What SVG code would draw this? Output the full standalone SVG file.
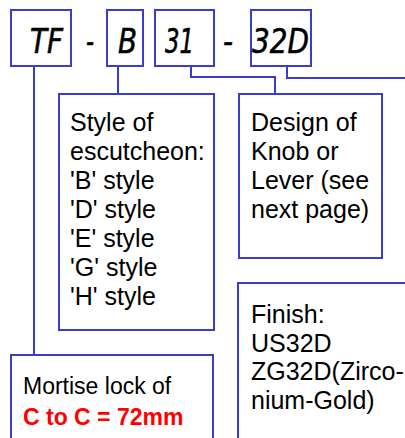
<svg xmlns="http://www.w3.org/2000/svg" width="405" height="438" viewBox="0 0 405 438">
<style>
.box{fill:#fff;stroke:#3c3ccc;stroke-width:2}
.ln{fill:none;stroke:#3c3ccc;stroke-width:2}
.code{font-family:"Comic Sans MS","DejaVu Sans",sans-serif;font-style:italic;font-size:33px;fill:#000;stroke:#000;stroke-width:0.6}
.t{font-family:"Liberation Sans",Arial,sans-serif;font-size:25px;fill:#000}
.m{font-family:"Liberation Sans",Arial,sans-serif;font-size:23px;fill:#000}
.r{font-family:"Liberation Sans",Arial,sans-serif;font-size:23px;font-weight:bold;fill:#f00}
</style>
<rect width="405" height="438" fill="#fff"/>
<g id="connectors">
<path class="ln" d="M34,66 V355"/>
<path class="ln" d="M118,66 V93"/>
<path class="ln" d="M191,66 V77 H275 V94"/>
<path class="ln" d="M287,66 V78 H406"/>
</g>
<g id="tf"><rect class="box" x="11" y="10" width="60" height="56"/><text class="code" x="30" y="53" textLength="33" lengthAdjust="spacingAndGlyphs">TF</text></g>
<g id="dash1"><text class="code" x="86" y="53" textLength="8" lengthAdjust="spacingAndGlyphs">-</text></g>
<g id="b"><rect class="box" x="107" y="10" width="36" height="56"/><text class="code" x="118" y="53" textLength="19" lengthAdjust="spacingAndGlyphs">B</text></g>
<g id="n31"><rect class="box" x="155" y="10" width="59" height="56"/><text class="code" x="165" y="53" textLength="29" lengthAdjust="spacingAndGlyphs">31</text></g>
<g id="dash2"><text class="code" x="223" y="53" textLength="10" lengthAdjust="spacingAndGlyphs">-</text></g>
<g id="n32d"><rect class="box" x="251" y="10" width="60" height="56"/><text class="code" x="252" y="53" textLength="57" lengthAdjust="spacingAndGlyphs">32D</text></g>
<g id="style"><rect class="box" x="59" y="94" width="155" height="236"/>
<text class="t" x="70" y="131">Style of</text>
<text class="t" x="70" y="160">escutcheon:</text>
<text class="t" x="70" y="189">'B' style</text>
<text class="t" x="70" y="218">'D' style</text>
<text class="t" x="70" y="247">'E' style</text>
<text class="t" x="70" y="276">'G' style</text>
<text class="t" x="70" y="305">'H' style</text>
</g>
<g id="design"><rect class="box" x="239" y="94" width="143" height="164"/>
<text class="t" x="251" y="131">Design of</text>
<text class="t" x="251" y="160">Knob or</text>
<text class="t" x="251" y="189">Lever (see</text>
<text class="t" x="251" y="218">next page)</text>
</g>
<g id="finish"><rect class="box" x="238" y="283" width="180" height="170"/>
<text class="t" x="251" y="323">Finish:</text>
<text class="t" x="251" y="352">US32D</text>
<text class="t" x="251" y="380">ZG32D(Zirco-</text>
<text class="t" x="251" y="409">nium-Gold)</text>
</g>
<g id="mortise"><rect class="box" x="11" y="355" width="202" height="100"/>
<text class="m" x="23" y="394">Mortise lock of</text>
<text class="r" x="23" y="425">C to C = 72mm</text>
</g>
</svg>
